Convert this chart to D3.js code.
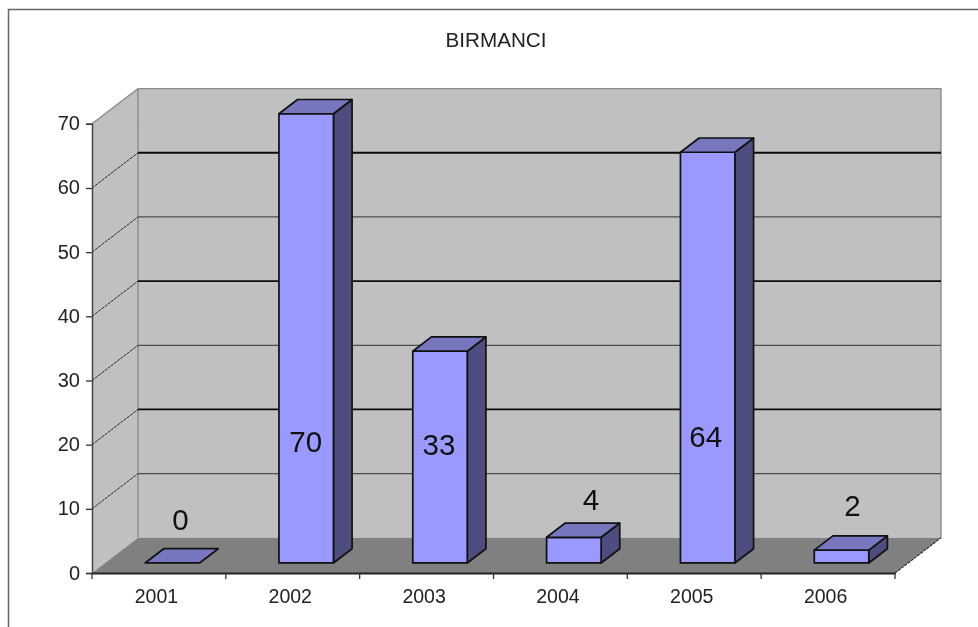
<!DOCTYPE html>
<html><head><meta charset="utf-8">
<script src="https://cdn.jsdelivr.net/npm/d3@7"></script>
<style>
html,body{margin:0;padding:0;background:#fff;overflow:hidden}
svg{display:block;filter:blur(0.6px)}
text{font-family:"Liberation Sans",Arial,sans-serif}
</style></head><body>
<script>
const title = "BIRMANCI";
const years = ["2001","2002","2003","2004","2005","2006"];
const counts = [0,70,33,4,64,2];
const yTicks = [0,10,20,30,40,50,60,70];
const heavyGrid = [20,40,60];

const W=978,H=627;
const x0=92,x1=895,y0=573,y70=123.8;
const depth=[46,-35.2];
const barFront=0.285, barBack=0.69;
const barPad=40, barW=54.5;
// label shifts relative to each bar's front-face centre (x), and baselines
const labelDx=[8,-0.5,-1,17,-2,11];
const labelY=[520,442,445,500,437,506];

const x=d3.scaleBand().domain(years).range([x0,x1]);
const y=d3.scaleLinear().domain([0,70]).range([y0,y70]);
const svg=d3.select("body").append("svg").attr("width",W).attr("height",H);
const P=(px,py,t)=>[px+depth[0]*t,py+depth[1]*t];
const poly=pts=>pts.map(p=>p.join(",")).join(" ");

// outer frame
svg.append("path").attr("d",`M8.5,${H} V9.5 H${W}`).attr("fill","none").attr("stroke","#666").attr("stroke-width",1.5);

// title
svg.append("text").attr("x",496).attr("y",47).attr("text-anchor","middle")
  .attr("font-size",20).attr("fill","#222").attr("textLength",101).attr("lengthAdjust","spacingAndGlyphs").text(title);

// walls and floor
const maxV=70;
svg.append("polygon").attr("points",poly([[x0,y(maxV)],P(x0,y(maxV),1),P(x1,y(maxV),1),P(x1,y(0),1),P(x0,y(0),1),[x0,y(0)]]))
  .attr("fill","#c0c0c0");
svg.append("polygon").attr("points",poly([[x0,y(0)],P(x0,y(0),1),P(x1,y(0),1),[x1,y(0)]])).attr("fill","#808080");
svg.append("path").attr("d",`M${x0},${y(maxV)} L${P(x0,y(maxV),1)} H${P(x1,0,1)[0]} V${P(0,y(0),1)[1]} M${P(x0,y(maxV),1)} V${P(0,y(0),1)[1]}`)
  .attr("fill","none").attr("stroke","#8c8c8c").attr("stroke-width",1.4);
svg.append("path").attr("d",`M${x1},${y(0)} L${P(x1,y(0),1)}`).attr("stroke","#222").attr("stroke-width",1.1).attr("stroke-dasharray","3 1").attr("fill","none");

// gridlines: back wall and dashed side wall
yTicks.filter(v=>v>0&&v<70).forEach(v=>{
  const heavy=heavyGrid.includes(v);
  const a=[x0,y(v)],b=P(x0,y(v),1),c=P(x1,y(v),1);
  svg.append("path").attr("d",`M${b} L${c}`).attr("fill","none")
    .attr("stroke",heavy?"#0c0c0c":"#4e4e4e").attr("stroke-width",heavy?1.8:1.2);
  svg.append("path").attr("d",`M${a} L${b}`).attr("fill","none")
    .attr("stroke","#222").attr("stroke-width",1).attr("stroke-dasharray","3 1");
});

// axes
const gy=svg.append("g").attr("transform",`translate(${x0},0)`)
  .call(d3.axisLeft(y).tickValues(yTicks).tickFormat(d3.format("d")).tickSize(6).tickPadding(6));
const gx=svg.append("g").attr("transform",`translate(0,${y0})`)
  .call(d3.axisBottom(x).tickSize(0).tickPadding(16));
gx.selectAll(".tick").remove();
svg.append("g").attr("transform",`translate(0,${y0})`).selectAll("line")
  .data([...years.map(d=>x(d)),x1]).join("line")
  .attr("x1",d=>d).attr("x2",d=>d).attr("y1",0).attr("y2",6).attr("stroke","#333").attr("stroke-width",1.3);
svg.append("g").selectAll("text").data(years).join("text")
  .attr("x",d=>x(d)+x.bandwidth()/2-2.5).attr("y",y0+30).attr("text-anchor","middle")
  .attr("font-size",19.5).attr("fill","#222").text(d=>d);
gy.selectAll("text").attr("font-size",20).attr("font-family","'Liberation Sans',Arial,sans-serif").attr("fill","#222").attr("dy","0.3em");
gy.selectAll("line").attr("stroke","#333").attr("stroke-width",1.3);
gy.select(".domain").attr("stroke","#444").attr("stroke-width",1.5);
gx.select(".domain").attr("stroke","#222").attr("stroke-width",1.8);

// bars
const bars=svg.append("g").selectAll("g").data(years.map((d,i)=>({year:d,value:counts[i],i}))).join("g")
  .attr("stroke","#111").attr("stroke-width",1.7).attr("stroke-linejoin","round");
bars.each(function(d){
  const g=d3.select(this);
  const l=x(d.year)+barPad,r=l+barW,b=y(0),t=y(d.value);
  if(d.value>0){
    g.append("polygon").attr("points",poly([P(r,b,barFront),P(r,b,barBack),P(r,t,barBack),P(r,t,barFront)])).attr("fill","#4d4d80");
    g.append("polygon").attr("points",poly([P(l,b,barFront),P(r,b,barFront),P(r,t,barFront),P(l,t,barFront)])).attr("fill","#9999ff");
  }
  g.append("polygon").attr("points",poly([P(l,t,barFront),P(r,t,barFront),P(r,t,barBack),P(l,t,barBack)])).attr("fill","#7777c0");
});

// value labels
svg.append("g").selectAll("text").data(counts).join("text")
  .attr("x",(d,i)=>P(x(years[i])+barPad+barW/2,0,barFront)[0]+labelDx[i])
  .attr("y",(d,i)=>labelY[i]+10).attr("text-anchor","middle")
  .attr("font-size",29.5).attr("fill","#111").text(d=>d);
</script>
</body></html>
